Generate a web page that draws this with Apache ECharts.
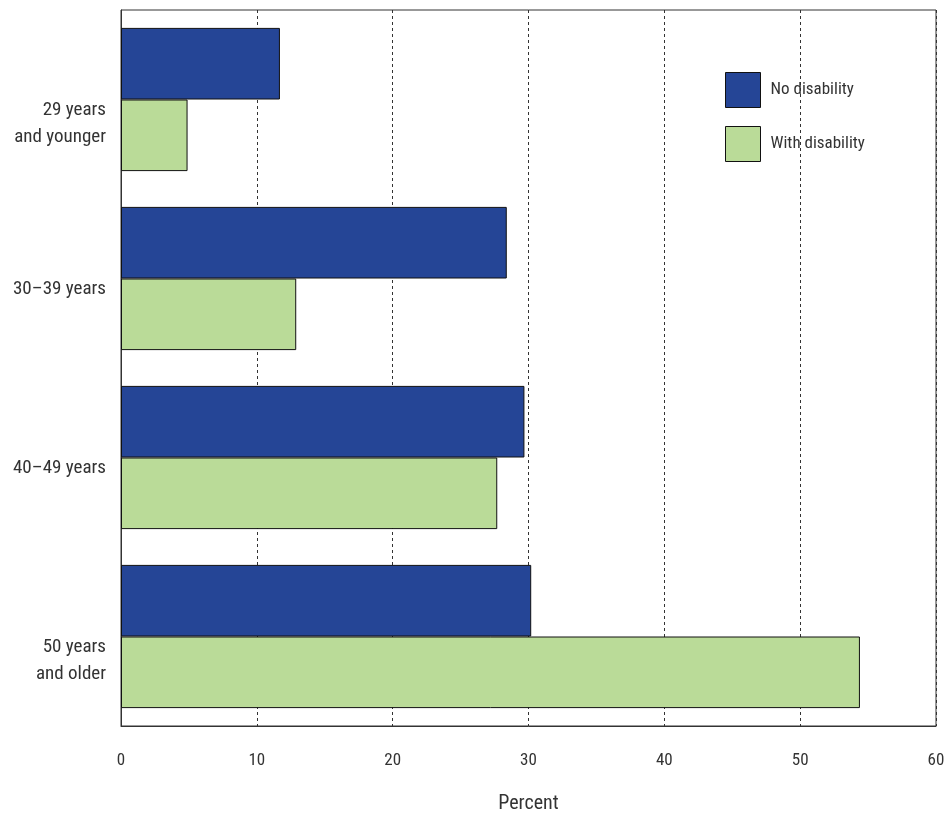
<!DOCTYPE html>
<html>
<head>
<meta charset="utf-8">
<script src="https://cdn.jsdelivr.net/npm/echarts@6/dist/echarts.min.js"></script>
<style>html,body{margin:0;padding:0;background:#fff;overflow:hidden}#c{width:947px;height:814px}</style>
</head>
<body>
<div id="c"></div>
<script>
const categories = ['29 years\nand younger', '30\u201339 years', '40\u201349 years', '50 years\nand older'];
const noDisability = [11.7, 28.4, 29.7, 30.2];
const withDisability = [4.9, 12.9, 27.7, 54.4];
const seriesNames = ['No disability', 'With disability'];
const xTicks = { min: 0, max: 60, interval: 10 };

const FONT = '"Liberation Sans Narrow", "Roboto Condensed", "Arial Narrow", "Liberation Sans", sans-serif';
const chart = echarts.init(document.getElementById('c'));
chart.setOption({
  animation: false,
  backgroundColor: '#fff',
  textStyle: { fontFamily: FONT },
  grid: { left: 121, width: 815, top: 10, height: 716, outerBoundsMode: 'none', containLabel: false, show: true, borderColor: '#333', borderWidth: 1, backgroundColor: 'transparent' },
  legend: {
    orient: 'vertical', left: 725, top: 72, padding: 0,
    itemWidth: 35, itemHeight: 35, itemGap: 18,
    icon: 'rect',
    itemStyle: { borderWidth: 1, borderColor: '#111' },
    textStyle: { fontFamily: FONT, fontSize: 17, color: '#333', padding: [0, 0, 0, 5] },
    data: seriesNames
  },
  xAxis: {
    type: 'value', min: xTicks.min, max: xTicks.max, interval: xTicks.interval,
    name: 'Percent', nameLocation: 'middle', nameGap: 68,
    nameTextStyle: { fontFamily: FONT, fontSize: 20, color: '#333' },
    axisLine: { show: true, lineStyle: { color: '#333', width: 1 } },
    axisTick: { show: false },
    axisLabel: { fontFamily: FONT, fontSize: 17, color: '#333', margin: 26 },
    splitLine: { show: true, lineStyle: { color: '#333', type: [3, 3], width: 1 } }
  },
  yAxis: {
    type: 'category', inverse: true, data: categories,
    axisLine: { show: true, lineStyle: { color: '#333', width: 1 } },
    axisTick: { show: false },
    axisLabel: { fontFamily: FONT, fontSize: 19, color: '#333', margin: 15, align: 'right', verticalAlign: 'top', lineHeight: 27, padding: [-3, 0, 0, 0] },
    splitLine: { show: false }
  },
  series: [
    { name: seriesNames[0], type: 'bar', data: noDisability, barGap: '0%', barCategoryGap: '20%',
      itemStyle: { color: '#254596', borderColor: '#111', borderWidth: 1 } },
    { name: seriesNames[1], type: 'bar', data: withDisability, barGap: '0%', barCategoryGap: '20%',
      itemStyle: { color: '#badb98', borderColor: '#111', borderWidth: 1 } }
  ]
});
</script>
</body>
</html>
